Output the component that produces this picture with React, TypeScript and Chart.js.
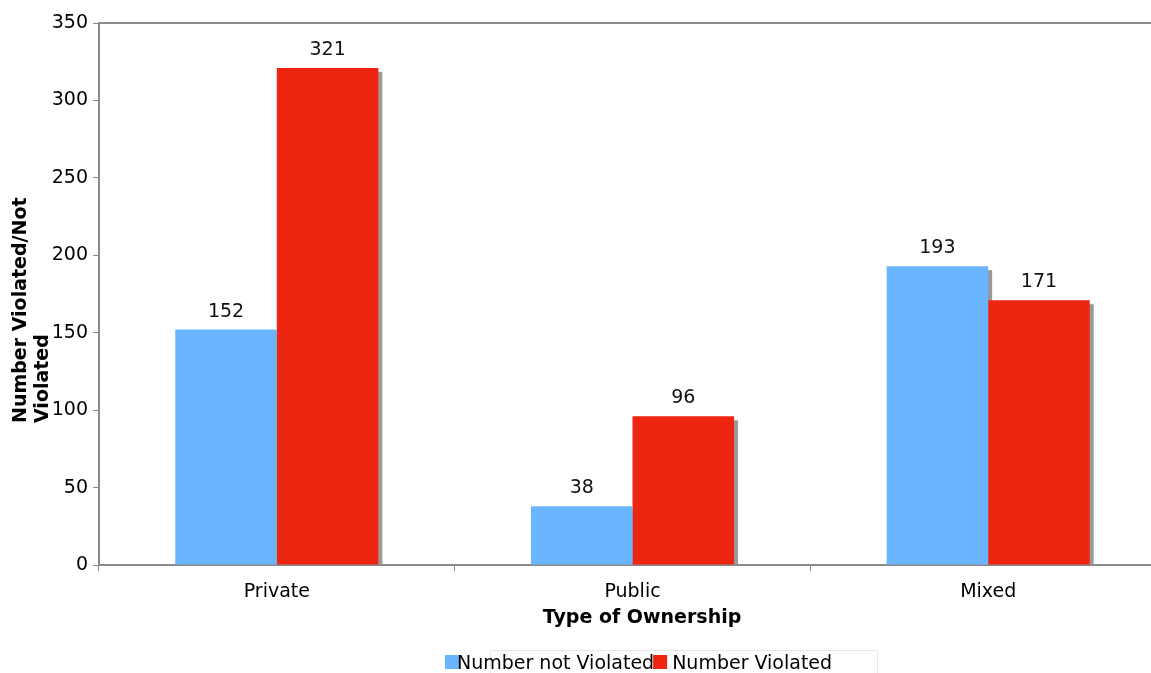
import React, { useEffect, useRef } from "react";
import { Chart, registerables } from "chart.js";

Chart.register(...registerables);

const categories = ["Private", "Public", "Mixed"];
const notViolated = [152, 38, 193];
const violated = [321, 96, 171];
const seriesLabels = ["Number not Violated", "Number Violated"];
const seriesColors = ["#6bb5ff", "#ee2510"];
const yTitleLines = ["Number Violated/Not", "Violated"];
const xTitle = "Type of Ownership";
const yMax = 350;
const yStep = 50;

const FONT = "'DejaVu Sans', Verdana, sans-serif";
const FS = 19;

const decorPlugin = {
  id: "decor",
  beforeDatasetsDraw(chart: any) {
    const ctx = chart.ctx;
    const area = chart.chartArea;
    ctx.save();
    ctx.beginPath();
    ctx.rect(area.left, area.top, area.right - area.left, area.bottom - area.top);
    ctx.clip();
    ctx.fillStyle = "#9a9a9a";
    chart.data.datasets.forEach((_: any, di: number) => {
      const meta = chart.getDatasetMeta(di);
      meta.data.forEach((el: any) => {
        const p = el.getProps(["x", "y", "width", "base"], true);
        ctx.fillRect(p.x - p.width / 2 + 4, p.y + 4, p.width, p.base - p.y - 4);
      });
    });
    ctx.restore();
  },
  afterDatasetsDraw(chart: any) {
    const ctx = chart.ctx;
    ctx.save();
    ctx.font = `${FS}px ${FONT}`;
    ctx.fillStyle = "#111";
    ctx.textAlign = "center";
    ctx.textBaseline = "middle";
    chart.data.datasets.forEach((ds: any, di: number) => {
      const meta = chart.getDatasetMeta(di);
      meta.data.forEach((el: any, i: number) => {
        const p = el.getProps(["x", "y"], true);
        ctx.fillText(String(ds.data[i]), p.x, p.y - 18);
      });
    });
    ctx.restore();
  },
  afterDraw(chart: any) {
    const ctx = chart.ctx;
    const area = chart.chartArea;
    ctx.save();
    // top border line
    ctx.strokeStyle = "#8a8a8a";
    ctx.lineWidth = 2;
    ctx.beginPath();
    ctx.moveTo(area.left, area.top);
    ctx.lineTo(chart.width, area.top);
    ctx.stroke();

    // y title
    ctx.fillStyle = "#000";
    ctx.font = `bold ${FS}px ${FONT}`;
    ctx.textAlign = "left";
    ctx.textBaseline = "middle";
    yTitleLines.forEach((line, i) => {
      ctx.save();
      ctx.translate(21 + i * 22, 423);
      ctx.rotate(-Math.PI / 2);
      ctx.fillText(line, 0, 0);
      ctx.restore();
    });

    // x title
    ctx.textAlign = "center";
    ctx.fillText(xTitle, 642, 618);

    // legend border
    ctx.strokeStyle = "#e6e6e6";
    ctx.lineWidth = 1;
    ctx.strokeRect(490.5, 650.5, 387, 30);

    // legend items
    ctx.font = `${FS}px ${FONT}`;
    ctx.textAlign = "left";
    ctx.textBaseline = "middle";
    let x = 445;
    chart.data.datasets.forEach((ds: any, i: number) => {
      ctx.fillStyle = ds.backgroundColor;
      ctx.fillRect(x, 655, 14, 14);
      const tx = i === 0 ? x + 12 : x + 19;
      ctx.fillStyle = "#000";
      ctx.fillText(ds.label, tx, 664);
      x = tx + ctx.measureText(ds.label).width - 1;
    });
    ctx.restore();
  },
};

export default function App() {
  const ref = useRef<HTMLCanvasElement>(null);
  useEffect(() => {
    if (!ref.current) return;
    Chart.defaults.font.family = FONT;
    Chart.defaults.font.size = FS;
    Chart.defaults.color = "#000";
    const chart = new Chart(ref.current, {
      type: "bar",
      data: {
        labels: categories,
        datasets: [
          { label: seriesLabels[0], data: notViolated, backgroundColor: seriesColors[0] },
          { label: seriesLabels[1], data: violated, backgroundColor: seriesColors[1] },
        ],
      },
      options: {
        animation: false,
        responsive: false,
        layout: { padding: { top: 23, left: 0, right: 0, bottom: 0 } },
        datasets: { bar: { categoryPercentage: 0.571, barPercentage: 1 } },
        plugins: { legend: { display: false }, tooltip: { enabled: false } },
        scales: {
          x: {
            afterFit: (s: any) => { s.height = 108; },
            grid: { display: true, drawOnChartArea: false, tickLength: 6, color: "#8a8a8a", offset: true },
            border: { display: true, color: "#8a8a8a", width: 2 },
            ticks: { padding: 10, color: "#000", font: { size: FS, family: FONT } },
          },
          y: {
            min: 0,
            max: yMax,
            afterFit: (s: any) => { s.width = 99; },
            grid: { display: true, drawOnChartArea: false, tickLength: 6, color: "#8a8a8a" },
            border: { display: true, color: "#8a8a8a", width: 2 },
            ticks: { stepSize: yStep, padding: 5, color: "#000", font: { size: FS, family: FONT } },
          },
        },
      },
      plugins: [decorPlugin],
    });
    return () => chart.destroy();
  }, []);
  return (
    <div style={{ position: "fixed", left: 0, top: 0, width: 1151, height: 673, overflow: "hidden", background: "#fff" }}>
      <canvas ref={ref} width={1166} height={673} />
    </div>
  );
}
